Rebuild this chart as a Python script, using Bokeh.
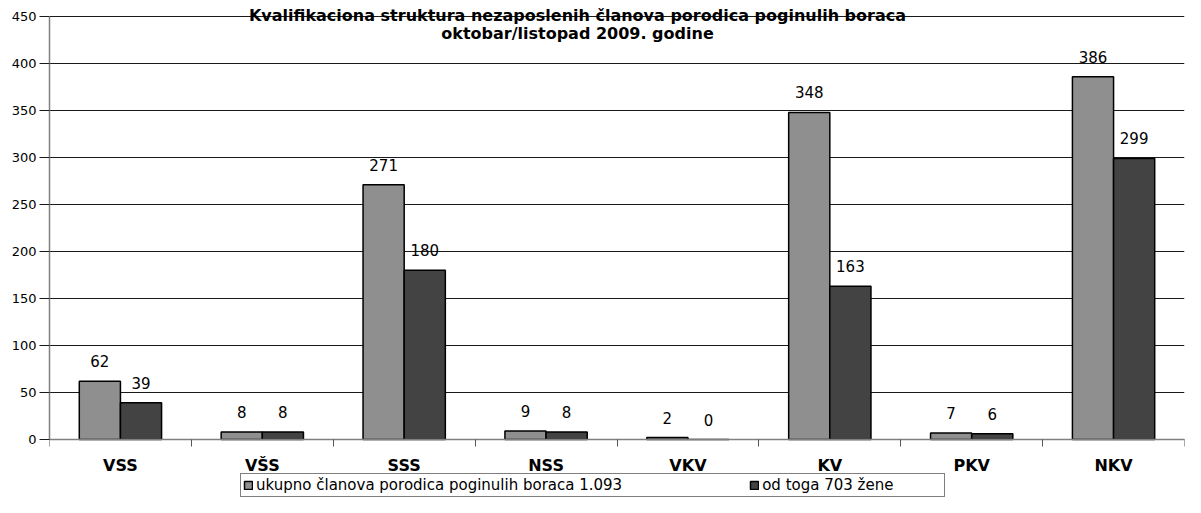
import numpy as np
from bokeh.plotting import figure
from bokeh.models import (ColumnDataSource, FixedTicker, Range1d,
                          LabelSet, Label, Legend, LegendItem)
from bokeh.core.properties import value
from bokeh.embed import file_html
from bokeh.resources import INLINE

categories = ["VSS", "VŠS", "SSS", "NSS", "VKV", "KV", "PKV", "NKV"]
ukupno = [62, 8, 271, 9, 2, 348, 7, 386]
zene = [39, 8, 180, 8, 0, 163, 6, 299]
series_names = ["ukupno članova porodica poginulih boraca 1.093", "od toga 703 žene"]
title_lines = ["Kvalifikaciona struktura nezaposlenih članova porodica poginulih boraca",
               "oktobar/listopad 2009. godine"]
y_ticks = list(range(0, 451, 50))

FONT = "DejaVu Sans"
W = 0.29
centers = np.arange(len(categories)) + 0.5

# layout (pixels)
WIDTH, HEIGHT = 1185, 497
LEFT, RIGHT = 49, 1
PX_TOP_VAL, PX_ZERO = 16, 439          # pixel rows of 450 and 0
s = (PX_ZERO - PX_TOP_VAL) / 450.0
y_end = 450 + PX_TOP_VAL / s
y_start = -(HEIGHT - PX_ZERO) / s

src = ColumnDataSource(dict(
    x1=centers - W / 2,
    x2=centers + W / 2,
    u=ukupno,
    z=zene,
    ul=[str(v) for v in ukupno],
    zl=[str(v) for v in zene],
))

p = figure(width=WIDTH, height=HEIGHT, output_backend="svg", toolbar_location=None,
           x_range=Range1d(0, len(categories)), y_range=Range1d(y_start, y_end),
           min_border_left=LEFT, min_border_right=RIGHT, min_border_top=0, min_border_bottom=0)
p.outline_line_color = None
p.background_fill_color = "white"
p.border_fill_color = "white"

r1 = p.vbar(x="x1", top="u", bottom=0, width=W, source=src,
            fill_color="#8f8f8f", line_color="black", line_width=1.5)
r2 = p.vbar(x="x2", top="z", bottom=0, width=W, source=src,
            fill_color="#434343", line_color="black", line_width=1.5)

for col, top, lab in (("x1", "u", "ul"), ("x2", "z", "zl")):
    p.add_layout(LabelSet(x=col, y=top, text=lab, source=src,
                          text_align="center", text_baseline="alphabetic", y_offset=14,
                          text_font=value(FONT), text_font_size="15px", text_color="black"))

# grid
p.xgrid.visible = False
p.ygrid.ticker = FixedTicker(ticks=y_ticks)
p.ygrid.grid_line_color = "#1a1a1a"
p.ygrid.grid_line_width = 1

# y axis
ya = p.yaxis[0]
ya.ticker = FixedTicker(ticks=y_ticks)
ya.bounds = (0, 450)
ya.axis_line_color = "#808080"
ya.axis_line_width = 1.5
ya.major_tick_line_color = "#1a1a1a"
ya.major_tick_out = 10
ya.major_tick_in = 0
ya.minor_tick_line_color = None
ya.major_label_standoff = 3
ya.major_label_text_font = FONT
ya.major_label_text_font_size = "13px"
ya.major_label_text_color = "black"

# x axis drawn at value 0
xa = p.xaxis[0]
xa.fixed_location = 0
xa.ticker = FixedTicker(ticks=list(centers), minor_ticks=list(range(len(categories) + 1)))
xa.major_label_overrides = {float(c): n for c, n in zip(centers, categories)}
xa.axis_line_color = "#808080"
xa.axis_line_width = 1.5
xa.major_tick_line_color = None
xa.major_tick_out = 0
xa.major_tick_in = 0
xa.minor_tick_line_color = "#555555"
xa.minor_tick_out = 7
xa.minor_tick_in = 0
xa.major_label_standoff = 9
xa.major_label_text_font = FONT
xa.major_label_text_font_style = "bold"
xa.major_label_text_font_size = "16px"
xa.major_label_text_color = "black"

# title (two lines)
for txt, base in zip(title_lines, (15, 33)):
    p.add_layout(Label(x=577 - LEFT, y=HEIGHT - base, x_units="screen", y_units="screen",
                       text=txt, text_align="center", text_baseline="alphabetic",
                       text_font=FONT, text_font_style="bold", text_font_size="16px",
                       text_color="black"))

legend = Legend(items=[LegendItem(label=series_names[0], renderers=[r1]),
                       LegendItem(label=series_names[1], renderers=[r2])],
                orientation="horizontal", location=(240 - LEFT, 0),
                glyph_width=10, glyph_height=10, label_standoff=3, spacing=127,
                padding=2, margin=0, label_height=18, label_width=180,
                label_text_font=FONT, label_text_font_size="15px", label_text_color="black",
                border_line_color="black", border_line_width=1,
                background_fill_color="white", background_fill_alpha=1)
p.add_layout(legend, "center")

open("out.html", "w").write(file_html(p, INLINE))
